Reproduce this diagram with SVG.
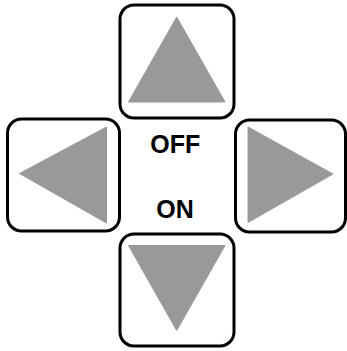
<svg xmlns="http://www.w3.org/2000/svg" width="347" height="351" viewBox="0 0 347 351">
<style>
.box{fill:#fff;stroke:#000;stroke-width:3}
.tri{fill:#999;stroke:#999;stroke-width:1;stroke-linejoin:round}
.lbl{font-family:"Liberation Sans",Arial,sans-serif;font-weight:bold;font-size:25px;fill:#000;text-anchor:middle}
</style>
<rect width="347" height="351" fill="#fff"/>
<g id="up">
<rect class="box" x="120" y="5" width="114" height="113" rx="14"/>
<polygon class="tri" points="176.7,17 225,102 128.5,102"/>
</g>
<g id="left">
<rect class="box" x="7.5" y="119" width="112" height="112" rx="14"/>
<polygon class="tri" points="19.5,173.5 106.5,127 106.5,223"/>
</g>
<g id="right">
<rect class="box" x="235.5" y="120" width="110" height="112" rx="14"/>
<polygon class="tri" points="248,127 333,174 248,222.5"/>
</g>
<g id="down">
<rect class="box" x="120" y="234" width="114" height="112" rx="14"/>
<polygon class="tri" points="128.5,245.5 225,245.5 176.7,330.5"/>
</g>
<g id="labels">
<text class="lbl" x="175.3" y="152.5">OFF</text>
<text class="lbl" x="175" y="217.5">ON</text>
</g>
<g id="connectors"></g>
</svg>
